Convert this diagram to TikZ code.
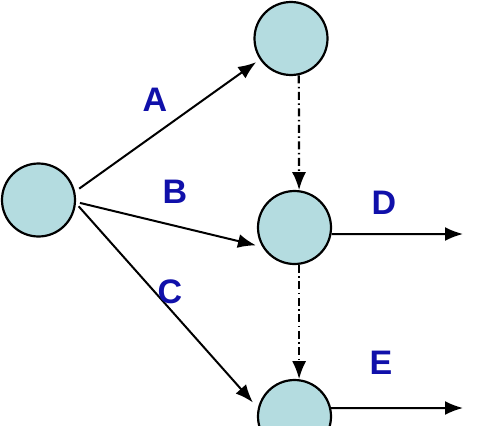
\documentclass[tikz,border=0pt]{standalone}
\usepackage{fontspec}
\setmainfont{Liberation Sans}
\usetikzlibrary{arrows.meta}
\definecolor{bubfill}{RGB}{180,220,224}
\definecolor{lblblue}{RGB}{16,16,170}

\begin{document}
\begin{tikzpicture}[x=1pt,y=-1pt,>={Latex[length=18pt,width=14pt]},
    bub/.style={circle,draw=black,line width=2.2pt,fill=bubfill,minimum size=73pt,inner sep=0pt},
    lbl/.style={text=lblblue,font=\fontsize{34}{38}\selectfont\bfseries,inner sep=0pt},
    act/.style={->,line width=2pt},
    dumy/.style={->,line width=2.2pt,dash pattern=on 8pt off 3.5pt on 1.5pt off 3.5pt}]
    \useasboundingbox (0,0) rectangle (494,425);
    % events
    \node[bub] (s) at (38.5,200) {};
    \node[bub] (t) at (291,38.5) {};
    \node[bub] (m) at (294.5,227.5) {};
    \node[bub] (b) at (294.5,416.5) {};
    \coordinate (dEnd) at (463,234);
    \coordinate (eEnd) at (463,408);
    % activities
    \draw[act,shorten <=5pt,shorten >=4.5pt] (s.13) -- (t.214);
    \draw[act,shorten <=4pt,shorten >=6.5pt] (s.-3) -- (m.211);
    \draw[act,shorten <=4pt,shorten >=7.5pt] (s.-5) -- (b.167);
    \draw[act] (m.-10) -- (dEnd);
    \draw[act] (b.13) -- (eEnd);
    % dummies
    \draw[dumy] (t.-78) -- (m.83);
    \draw[dumy] (m.-83) -- (b.83);
    % labels
    \node[lbl] (lA) at (155,100) {A};
    \node[lbl] (lB) at (175,192) {B};
    \node[lbl] (lC) at (170,292) {C};
    \node[lbl] (lD) at (384,203) {D};
    \node[lbl] (lE) at (381,363) {E};
\end{tikzpicture}
\end{document}
